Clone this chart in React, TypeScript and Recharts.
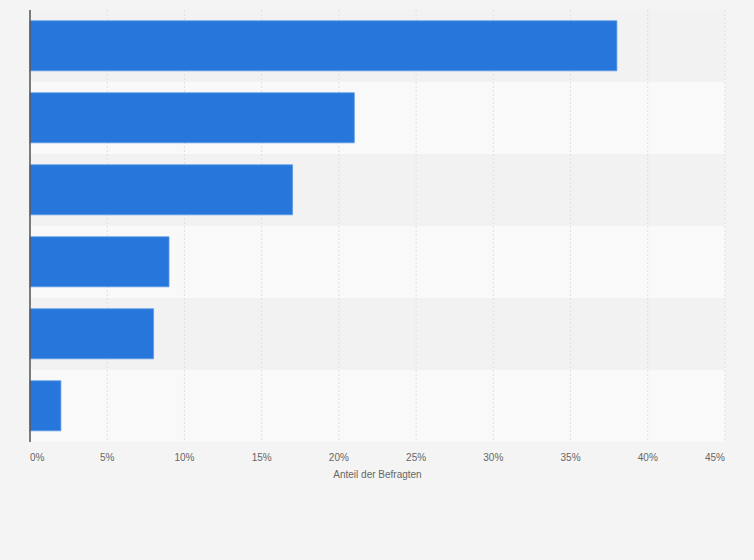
import React from 'react';
import { BarChart, Bar, XAxis, YAxis, CartesianGrid, ReferenceArea } from 'recharts';

const categories = ['Antwort 1', 'Antwort 2', 'Antwort 3', 'Antwort 4', 'Antwort 5', 'Antwort 6'];
const shares = [38, 21, 17, 9, 8, 2];
const xTicks = [0, 5, 10, 15, 20, 25, 30, 35, 40, 45];

const data = categories.map((name, i) => ({ name, anteil: shares[i] }));

const PercentTick = (props: any) => {
  const { x, y, payload, index } = props;
  const last = index === xTicks.length - 1;
  const anchor = index === 0 ? 'start' : last ? 'end' : 'middle';
  return (
    <text x={x} y={y + 4} dy="0.71em" textAnchor={anchor} fontSize={10} fill="#666" fontFamily="'Liberation Sans', Arial, sans-serif">
      {payload.value}%
    </text>
  );
};

export default function App() {
  return (
    <div style={{ position: 'absolute', left: 0, top: 0, width: 754, height: 560, background: '#f4f4f4' }}>
      <style>{'body{margin:0}'}</style>
      <BarChart
        width={754}
        height={560}
        data={data}
        layout="vertical"
        margin={{ top: 10, right: 29, bottom: 68, left: 29 }}
        barCategoryGap="15%"
      >
        {categories.map((c, i) => (
          <ReferenceArea
            key={c}
            y1={c}
            y2={c}
            fill={i % 2 === 0 ? '#f2f2f2' : '#f9f9f9'}
            fillOpacity={1}
            stroke="none"
            zIndex={-150}
          />
        ))}
        <CartesianGrid horizontal={false} stroke="#e0e0e0" strokeDasharray="2 2" />
        <XAxis
          type="number"
          domain={[0, 45]}
          ticks={xTicks}
          axisLine={false}
          tickLine={false}
          tick={<PercentTick />}
          interval={0}
          height={50}
          label={{
            value: 'Anteil der Befragten',
            position: 'insideBottom',
            offset: 14,
            fontSize: 10,
            fill: '#666',
            fontFamily: "'Liberation Sans', Arial, sans-serif",
          }}
        />
        <YAxis type="category" dataKey="name" width={1} tick={false} tickLine={false} axisLine={{ stroke: '#555', strokeWidth: 1.5 }} />
        <Bar dataKey="anteil" fill="#2776db" stroke="#5e9ae6" strokeWidth={0.8} isAnimationActive={false} />
      </BarChart>
    </div>
  );
}
